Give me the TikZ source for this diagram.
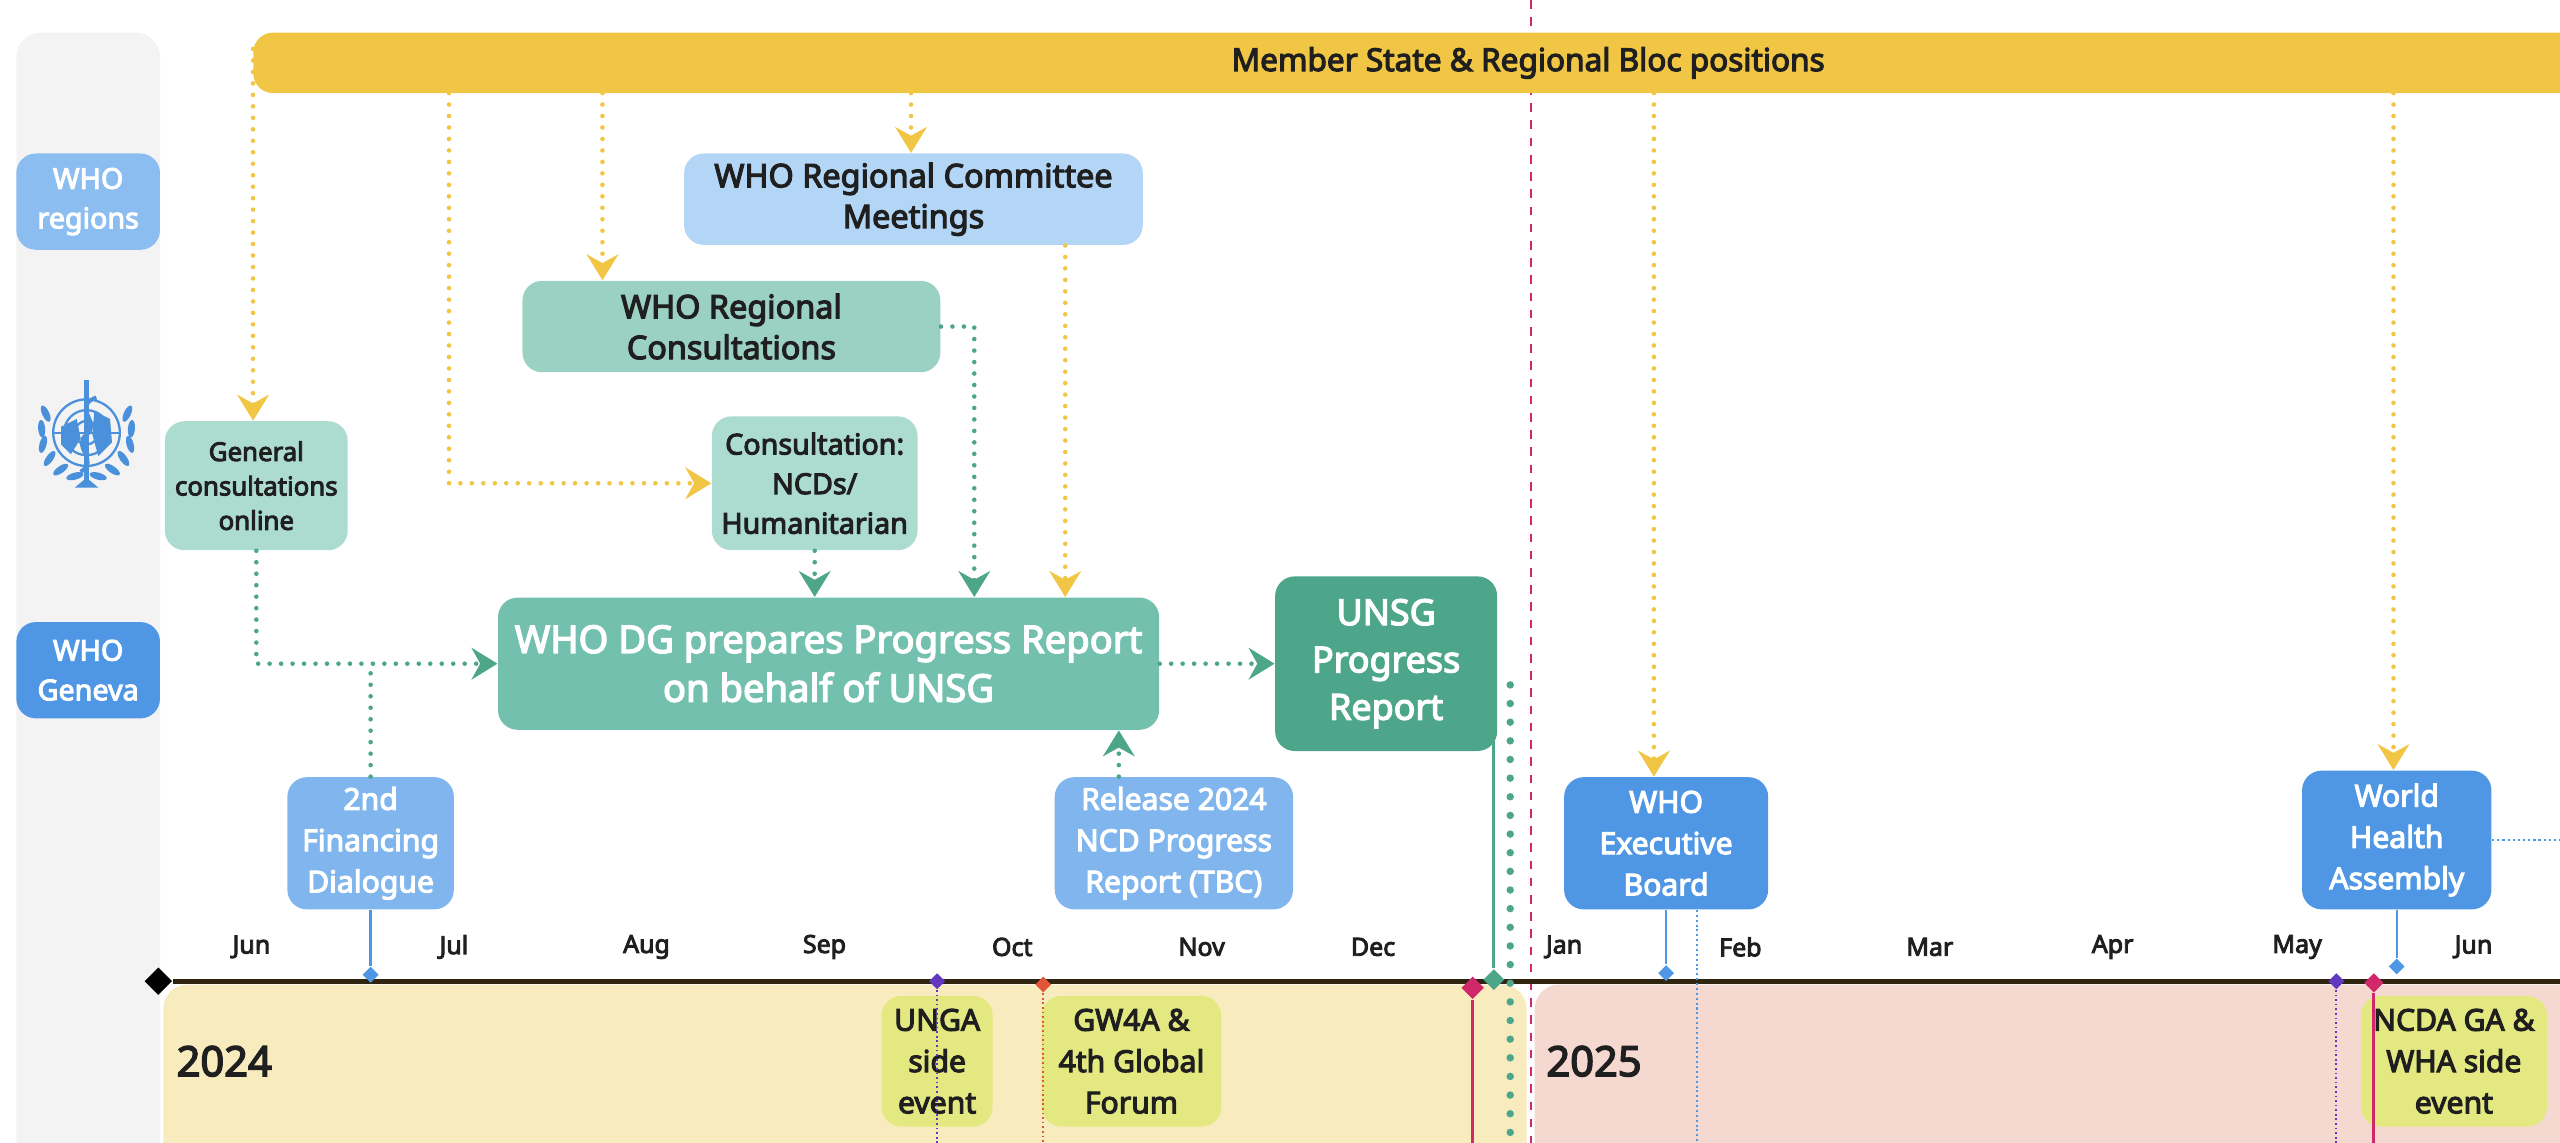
\documentclass[tikz,border=0pt]{standalone}
\usepackage{fontspec}
\setmainfont{Noto Sans}[BoldFont={Noto Sans}, BoldFeatures={FakeBold=3.6}]
\usetikzlibrary{arrows.meta,shapes.geometric,calc}

\definecolor{gold}{HTML}{F1C644}
\definecolor{colgray}{HTML}{F3F3F3}
\definecolor{sky}{HTML}{8CBDF0}
\definecolor{skylt}{HTML}{B3D6F6}
\definecolor{skymd}{HTML}{80B5EE}
\definecolor{whoblue}{HTML}{4F97E5}
\definecolor{mint}{HTML}{ACDCD0}
\definecolor{mintmd}{HTML}{9BD1C3}
\definecolor{teal1}{HTML}{73C0AE}
\definecolor{teal2}{HTML}{4DA58A}
\definecolor{lime}{HTML}{E3E880}
\definecolor{band24}{HTML}{F8ECBF}
\definecolor{band25}{HTML}{F5D9D1}
\definecolor{ink}{HTML}{1F1F1F}
\definecolor{crim}{HTML}{D1286A}
\definecolor{violet}{HTML}{6238C0}
\definecolor{flame}{HTML}{E2553A}
\definecolor{axis}{HTML}{2E2410}
\definecolor{logob}{HTML}{4A90DA}

\tikzstyle{bx} = [rounded corners=0.24cm, align=center, inner sep=0pt]
\tikzstyle{dk} = [bx, text=ink]
\tikzstyle{wt} = [bx, text=white]
\tikzstyle{f9} = [font=\bfseries\fontsize{9}{12}\selectfont]
\tikzstyle{f10} = [font=\bfseries\fontsize{10}{13.8}\selectfont]
\tikzstyle{f105} = [font=\bfseries\fontsize{10.5}{14.4}\selectfont]
\tikzstyle{f11} = [font=\bfseries\fontsize{11.3}{14.2}\selectfont]
\tikzstyle{f12} = [font=\bfseries\fontsize{12.5}{16.5}\selectfont]
\tikzstyle{f13} = [font=\bfseries\fontsize{13.3}{17}\selectfont]
\tikzstyle{ya} = [draw=gold, line width=1.6pt, line cap=round, dash pattern=on 0pt off 4pt,
  -{Stealth[length=9pt,width=11pt,inset=3pt]}]
\tikzstyle{ga} = [ya, draw=teal2]
\tikzstyle{gl} = [draw=teal2, line width=1.6pt, line cap=round, dash pattern=on 0pt off 4pt]
\tikzstyle{dm} = [diamond, inner sep=0pt, minimum size=0.2cm]
\tikzstyle{mon} = [text=ink, font=\bfseries\fontsize{8.7}{10}\selectfont]
\tikzstyle{yr} = [text=ink, anchor=west, font=\bfseries\fontsize{14.5}{16}\selectfont]

\begin{document}
\begin{tikzpicture}[x=0.02cm, y=-0.02cm]
  \useasboundingbox (0,0) rectangle (1568,700);
  \fill[colgray, rounded corners=0.3cm] (10,20) rectangle (98,730);
  \fill[band24, rounded corners=0.3cm] (100,603) rectangle (935,730);
  \fill[band25, rounded corners=0.3cm] (940,603) rectangle (1620,730);
  \draw[crim, dashed, line width=0.7pt] (938,0) -- (938,700);

  \node[dk, fill=gold, minimum width=31.24cm, minimum height=0.74cm,
    font=\bfseries\fontsize{11}{13}\selectfont] (bar) at (936,38.5)
    {Member State \& Regional Bloc positions};

  \node[wt, fill=sky, f10, minimum width=1.76cm, minimum height=1.18cm] (reg) at (54,123.5) {WHO\\regions};
  \node[wt, fill=whoblue, f10, minimum width=1.76cm, minimum height=1.18cm] (gva) at (54,410.5) {WHO\\Geneva};

  \begin{scope}[shift={(53,265)}, scale=1.2, logob, line width=0.8pt]
    \draw (0,0) circle (17);
    \draw (0,0) circle (11.5);
    \draw (0,0) circle (6);
    \draw (-17,0) -- (17,0);
    \draw (0,-17) -- (0,17);
    \fill (-13,-3) -- (-5,-7) -- (-3,3) -- (-8,11) -- (-13,6) -- cycle;
    \fill (4,-11) -- (12,-7) -- (13,5) -- (6,12) -- (3,1) -- cycle;
    \draw[line width=1.8pt] (0,-27) -- (0,25);
    \draw[line width=1.4pt] (5,-18) .. controls (-8,-13) and (8,-5) .. (0,1) .. controls (-8,7) and (7,14) .. (-3,20);
    \foreach \a in {105,125,145,165,185,205}
      \fill[shift={(\a:23)}, rotate=\a] (0,0) ellipse (1.8 and 4.5);
    \foreach \a in {75,55,35,15,-5,-25}
      \fill[shift={(\a:23)}, rotate=\a] (0,0) ellipse (1.8 and 4.5);
    \fill (-6,28) -- (6,28) -- (0,23) -- cycle;
  \end{scope}

  \node[dk, fill=skylt, f11, minimum width=5.62cm, minimum height=1.12cm] (rcm) at (559.5,122) {WHO Regional Committee\\Meetings};
  \node[dk, fill=mintmd, f11, minimum width=5.12cm, minimum height=1.12cm] (rcons) at (448,200) {WHO Regional\\Consultations};
  \node[dk, fill=mint, f9, minimum width=2.24cm, minimum height=1.58cm] (gen) at (157,297.5) {General\\consultations\\online};
  \node[dk, fill=mint, f10, minimum width=2.52cm, minimum height=1.64cm] (ncd) at (499,296) {Consultation:\\NCDs/\\Humanitarian};
  \node[wt, fill=teal1, f13, minimum width=8.1cm, minimum height=1.62cm] (dg) at (507.5,406.5) {WHO DG prepares Progress Report\\on behalf of UNSG};
  \node[wt, fill=teal2, f12, minimum width=2.72cm, minimum height=2.14cm] (unsg) at (849,406.5) {UNSG\\Progress\\Report};
  \node[wt, fill=skymd, f105, minimum width=2.04cm, minimum height=1.62cm] (fin) at (227,516.5) {2nd\\Financing\\Dialogue};
  \node[wt, fill=skymd, f105, minimum width=2.92cm, minimum height=1.62cm] (rel) at (719,516.5) {Release 2024\\NCD Progress\\Report (TBC)};
  \node[wt, fill=whoblue, f105, minimum width=2.5cm, minimum height=1.62cm] (eb) at (1020.5,516.5) {WHO\\Executive\\Board};
  \node[wt, fill=whoblue, f105, minimum width=2.32cm, minimum height=1.7cm] (wha) at (1468,514.5) {World\\Health\\Assembly};
  \node[dk, fill=lime, f105, minimum width=1.36cm, minimum height=1.6cm] (unga) at (574,650) {UNGA\\side\\event};
  \node[dk, fill=lime, f105, minimum width=2.2cm, minimum height=1.6cm] (gw) at (693,650) {GW4A \&\\4th Global\\Forum};
  \node[dk, fill=lime, f105, minimum width=2.28cm, minimum height=1.6cm] (ncda) at (1503,650) {NCDA GA \&\\WHA side\\event};

  \coordinate (p1) at (155,30);
  \coordinate (p2) at (275,57);
  \coordinate (p3) at (369,57);
  \coordinate (p4) at (558,57);
  \coordinate (p5) at ($(rcm.south west)!0.83!(rcm.south east)$);
  \coordinate (p6) at (1013,57);
  \coordinate (p7) at (1466,57);
  \draw[ya] (p1) -- (p1 |- gen.north);
  \draw[ya] (p2) |- (ncd.west);
  \draw[ya] (p3) -- (p3 |- rcons.north);
  \draw[ya] (p4) -- (p4 |- rcm.north);
  \draw[ya] (p5) -- (p5 |- dg.north);
  \draw[ya] (p6) -- (p6 |- eb.north);
  \draw[ya] (p7) -- (p7 |- wha.north);

  \coordinate (q1) at ($(rel.north west)!0.27!(rel.north east)$);
  \draw[ga] (gen.south) |- (dg.west);
  \draw[gl] (fin.north) -- (fin.north |- dg.west);
  \draw[ga] (ncd.south) -- (ncd.south |- dg.north);
  \draw[ga] (rcons.east) -| ($(dg.north west)!0.72!(dg.north east)$);
  \draw[ga] (q1) -- (q1 |- dg.south);
  \draw[ga] (dg.east) -- (unsg.west);

  \node[dm, fill=black, minimum size=0.34cm] (st) at (97,601) {};
  \coordinate (en) at (1600,601);
  \coordinate (bot) at (0,710);
  \draw[axis, line width=1.8pt] (st.east) -- (en);

  \node[mon] (m1) at (154,580) {Jun};
  \node[mon] (m2) at (278,580) {Jul};
  \node[mon] (m3) at (396,580) {Aug};
  \node[mon] (m4) at (505,580) {Sep};
  \node[mon] (m5) at (620,580) {Oct};
  \node[mon] (m6) at (736,580) {Nov};
  \node[mon] (m7) at (841,580) {Dec};
  \node[mon] (m8) at (958,580) {Jan};
  \node[mon] (m9) at (1066,580) {Feb};
  \node[mon] (m10) at (1182,580) {Mar};
  \node[mon] (m11) at (1294,580) {Apr};
  \node[mon] (m12) at (1407,580) {May};
  \node[mon] (m13) at (1515,580) {Jun};
  \node[yr] (y1) at (102,650) {2024};
  \node[yr] (y2) at (941,650) {2025};

  \node[dm, fill=whoblue] (mf) at (227,597) {};
  \draw[whoblue, line width=0.8pt] (fin.south) -- (mf);
  \node[dm, fill=violet] (mu) at (574,601) {};
  \draw[violet, densely dotted, line width=0.6pt] (mu) -- (mu |- bot);
  \node[dm, fill=flame] (mg) at (639,603) {};
  \draw[flame, densely dotted, line width=0.6pt] (mg) -- (mg |- bot);
  \node[dm, fill=crim, minimum size=0.28cm] (mc) at (902,605) {};
  \draw[crim, line width=1.2pt] (mc) -- (mc |- bot);
  \node[dm, fill=teal2, minimum size=0.26cm] (mt) at (915,600) {};
  \draw[teal2, line width=1pt] (mt) -- (mt |- unsg.east);
  \coordinate (gd) at (925,705);
  \draw[teal2, line width=2.6pt, line cap=round, dash pattern=on 0pt off 6.5pt] (gd) -- ([yshift=-0.1cm]gd |- unsg.east);
  \node[dm, fill=whoblue] (me) at (1020.5,596) {};
  \draw[whoblue, line width=0.8pt] (eb.south) -- (me);
  \coordinate (q2) at ($(eb.south west)!0.65!(eb.south east)$);
  \draw[whoblue, densely dotted, line width=0.7pt] (q2) -- (q2 |- bot);
  \node[dm, fill=violet] (mv) at (1431,601) {};
  \draw[violet, densely dotted, line width=0.6pt] (mv) -- (mv |- bot);
  \node[dm, fill=crim, minimum size=0.24cm] (mc2) at (1454,602) {};
  \draw[crim, line width=1pt] (mc2) -- (mc2 |- bot);
  \node[dm, fill=whoblue] (mw) at (1468,592) {};
  \draw[whoblue, line width=0.8pt] (wha.south) -- (mw);
  \draw[whoblue, densely dotted, line width=0.8pt] (wha.east) -- (wha.east -| en);
\end{tikzpicture}
\end{document}
